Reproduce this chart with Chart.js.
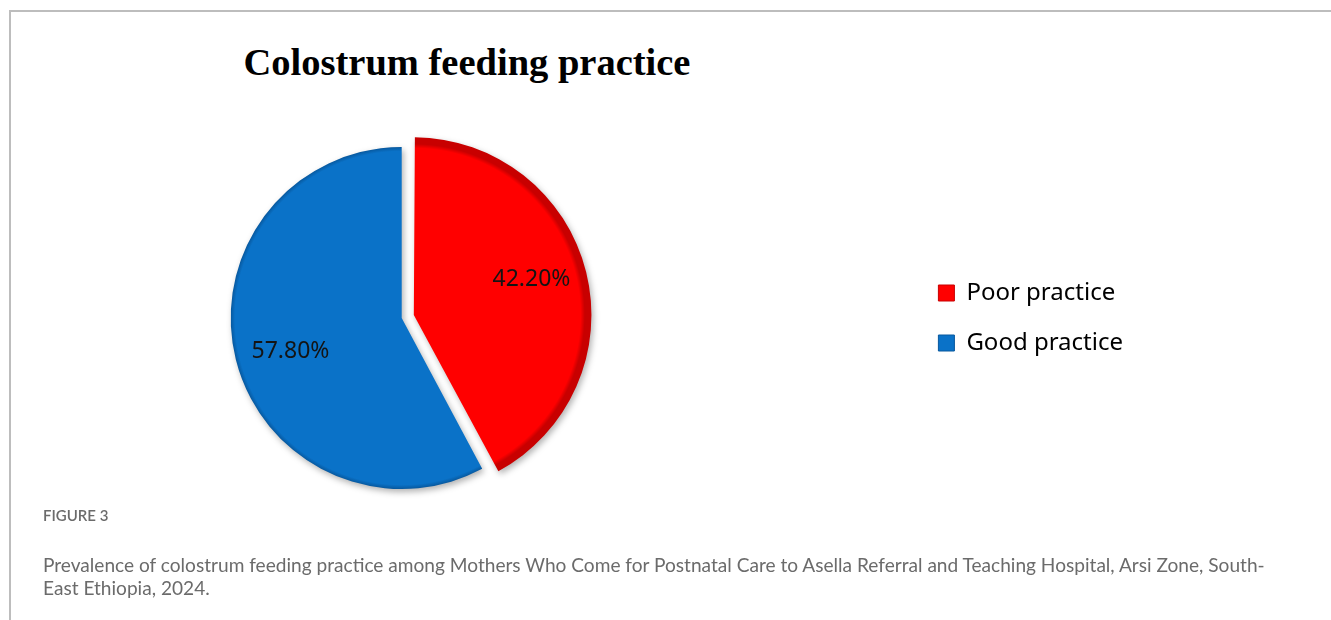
<!DOCTYPE html>
<html>
<head>
<meta charset="utf-8">
<script src="https://cdn.jsdelivr.net/npm/chart.js@4.4.1/dist/chart.umd.min.js"></script>
<style>
  html, body { margin: 0; padding: 0; background: #fff; }
  body { width: 1331px; height: 620px; position: relative; overflow: hidden; }
  .frame {
    position: absolute; left: 9px; top: 10px; right: 0; bottom: 0;
    border-top: 2px solid #bdbdbd; border-left: 2px solid #bdbdbd;
  }
  #chart { position: absolute; left: -150px; top: -1px; }
  .title {
    position: absolute; left: 167px; top: 43px; width: 600px;
    text-align: center; font: bold 38.5px "Liberation Serif", "Times New Roman", serif;
    line-height: 38px; color: #000;
  }
  .fig {
    position: absolute; left: 43px; top: 508px;
    font: 600 15px Lato, sans-serif; line-height: 15px; color: #6b6b6b;
  }
  .caption {
    position: absolute; left: 43px; top: 553px; width: 1285px;
    font: 19.1px Lato, sans-serif; line-height: 23px; color: #6b6b6b;
  }
</style>
</head>
<body>
<div class="frame"></div>
<div class="title">Colostrum feeding practice</div>
<canvas id="chart" width="1481" height="620"></canvas>
<div class="fig">FIGURE 3</div>
<div class="caption">Prevalence of colostrum feeding practice among Mothers Who Come for Postnatal Care to Asella Referral and Teaching Hospital, Arsi Zone, South-<br>East Ethiopia, 2024.</div>

<script>
// data
const categories = ["Poor practice", "Good practice"];
const percents = [42.2, 57.8];
const valueLabels = ["42.20%", "57.80%"];

// styles
const baseColors = ["#ff0000", "#0a72c8"];
const rimColors = ["#c80000", "#07589e"];
const PIE_RADIUS = 171;
const LABEL_DIST = 0.68;    // fraction of radius
const LABEL_TURN = -0.05;   // small rotation from mid angle (rad)

function sliceFill(c) {
  const chart = c.chart;
  const area = chart.chartArea;
  const i = c.dataIndex;
  if (!area) return baseColors[i];
  const cx = (area.left + area.right) / 2;
  const cy = (area.top + area.bottom) / 2;
  const g = chart.ctx.createRadialGradient(cx, cy, 0, cx, cy, PIE_RADIUS);
  g.addColorStop(0, baseColors[i]);
  g.addColorStop(0.975, baseColors[i]);
  g.addColorStop(1, rimColors[i]);
  return g;
}

const pieDecor = {
  id: "pieDecor",
  beforeDatasetsDraw(chart) {
    const ctx = chart.ctx;
    ctx.save();
    ctx.shadowColor = "rgba(0,0,0,0.3)";
    ctx.shadowBlur = 6;
    ctx.shadowOffsetX = 2;
    ctx.shadowOffsetY = 3;
  },
  afterDatasetsDraw(chart) {
    const ctx = chart.ctx;
    ctx.restore();
    const meta = chart.getDatasetMeta(0);
    ctx.save();
    ctx.font = "23px 'Noto Sans', sans-serif";
    ctx.fillStyle = "#141414";
    ctx.textAlign = "center";
    ctx.textBaseline = "middle";
    meta.data.forEach((arc, i) => {
      const p = arc.getProps(["x", "y", "startAngle", "endAngle", "outerRadius", "circumference"], true);
      const mid = (p.startAngle + p.endAngle) / 2;
      // same push-out the arc element uses for its offset
      const off = (arc.options.offset || 0) / 4;
      const shift = off * (2 - Math.sin(Math.min(Math.PI, p.circumference)));
      const sx = p.x + Math.cos(mid) * shift;
      const sy = p.y + Math.sin(mid) * shift;
      const a = mid + LABEL_TURN;
      const rr = p.outerRadius * LABEL_DIST;
      ctx.fillText(valueLabels[i], sx + Math.cos(a) * rr, sy + Math.sin(a) * rr);
    });
    ctx.restore();
  }
};

Chart.defaults.color = "#1a1a1a";

new Chart(document.getElementById("chart"), {
  type: "pie",
  data: {
    labels: categories,
    datasets: [{
      data: percents,
      backgroundColor: sliceFill,
      borderWidth: 0,
      offset: [50, 0],
      hoverOffset: 0,
      radius: PIE_RADIUS
    }]
  },
  options: {
    responsive: false,
    animation: false,
    devicePixelRatio: 1,
    layout: { padding: { left: 41, right: 198, top: 139, bottom: 121 } },
    plugins: {
      tooltip: { enabled: false },
      legend: {
        position: "right",
        labels: {
          boxWidth: 16,
          boxHeight: 16,
          padding: 26,
          font: { family: "'Noto Sans', sans-serif", size: 24 },
          color: "#1a1a1a",
          generateLabels(chart) {
            return categories.map((name, i) => ({
              text: name,
              fillStyle: baseColors[i],
              strokeStyle: rimColors[i],
              lineWidth: 1,
              hidden: false,
              index: i
            }));
          }
        }
      }
    }
  },
  plugins: [pieDecor]
});
</script>
</body>
</html>
